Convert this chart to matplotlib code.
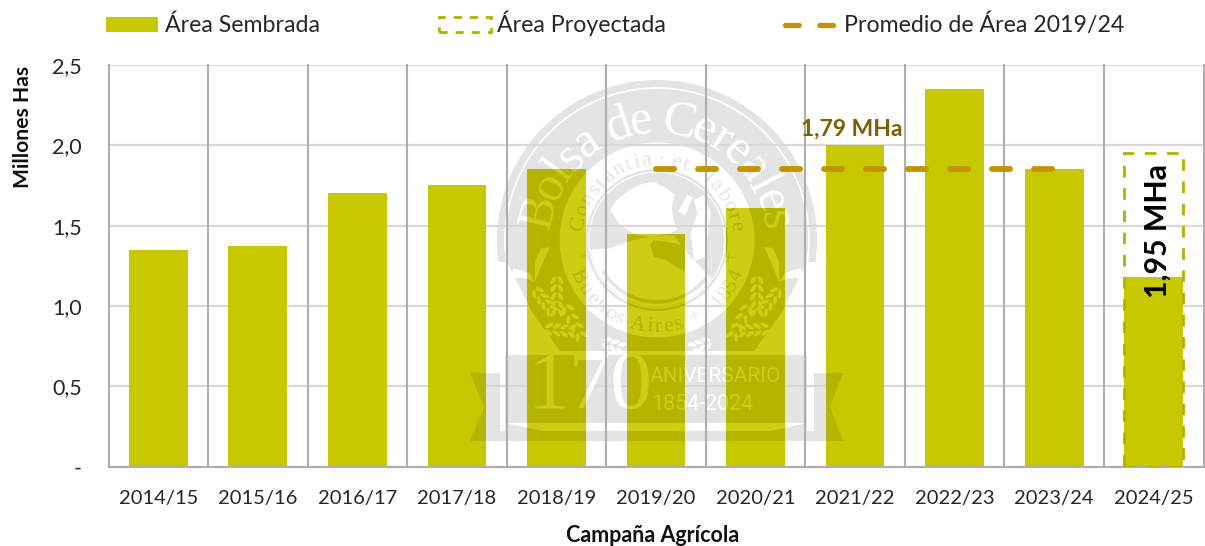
import numpy as np
import matplotlib
matplotlib.use("Agg")
import matplotlib.pyplot as plt
from matplotlib.patches import Patch, Circle, Rectangle, Ellipse, Polygon, Arc
from matplotlib.lines import Line2D
from matplotlib.path import Path
from matplotlib.transforms import Affine2D, Bbox, TransformedBbox
from matplotlib.textpath import TextPath
from matplotlib.font_manager import FontProperties

campaigns = ["2014/15", "2015/16", "2016/17", "2017/18", "2018/19", "2019/20",
             "2020/21", "2021/22", "2022/23", "2023/24", "2024/25"]
sown_area = [1.35, 1.37, 1.70, 1.75, 1.85, 1.45, 1.61, 2.00, 2.35, 1.85, 1.18]
projected_campaign = "2024/25"
projected_area = 1.95
average_campaigns = ["2019/20", "2020/21", "2021/22", "2022/23", "2023/24"]
average_area = [1.855, 1.855, 1.855, 1.855, 1.855]
y_ticks = [0, 0.5, 1.0, 1.5, 2.0, 2.5]
y_tick_labels = ["-", "0,5", "1,0", "1,5", "2,0", "2,5"]

BAR = "#C8C800"
W, H = 1205, 546
plt.rcParams["font.family"] = ["Lato", "DejaVu Sans"]
fig = plt.figure(figsize=(W / 100, H / 100), dpi=100, facecolor="white")
ax = fig.add_axes([108.5 / W, 1 - 466.5 / H, (1203.5 - 108.5) / W, (466.5 - 65) / H])
ax.set_xlim(-0.5, 10.5)
ax.set_ylim(0, 2.5)
x = np.arange(len(campaigns))

bars = ax.bar(x, sown_area, width=0.59, color=BAR, zorder=2)
px_idx = campaigns.index(projected_campaign)
ax.bar(px_idx, projected_area, width=0.59, facecolor="none", edgecolor="#B3B000",
       linewidth=2.0, linestyle=(0, (4.2, 3.8)), zorder=3)
ax.plot([campaigns.index(c) for c in average_campaigns], average_area, color="#C29500",
        lw=4.2, dash_capstyle="round", dashes=(3.1, 4.1), zorder=4)

ax.set_yticks(y_ticks)
ax.set_yticklabels(y_tick_labels, fontsize=15.5, color="#262626")
ax.set_xticks(x)
ax.set_xticklabels(campaigns, fontsize=14.5, color="#262626")
ax.tick_params(axis="x", length=0, pad=17)
ax.tick_params(axis="y", length=0, pad=19)
ax.set_axisbelow(True)
ax.yaxis.grid(True, color="#D9D9D9", lw=1.6, zorder=1)
for b in np.arange(-0.5, 11):
    ax.axvline(b, color="#B0ADAD", lw=1.5, zorder=1, clip_on=False)
for side in ["top", "right", "left"]:
    ax.spines[side].set_visible(False)
ax.spines["bottom"].set_color("#B0ADAD")
ax.spines["bottom"].set_linewidth(1.5)

ax.set_xlabel("Campaña Agrícola", fontsize=15.5, fontweight="bold", color="#111111")
ax.xaxis.set_label_coords(0.497, -0.145)
ax.set_ylabel("Millones Has", fontsize=15.2, fontweight="bold", color="#111111")
ax.yaxis.set_label_coords(-0.069, 0.845)

ax.text(6.965, 2.10, "1,79 MHa", ha="center", va="center", fontsize=16.5, fontweight="bold",
        color="#7F6000", zorder=5)
ax.text(px_idx + 0.04, 1.465, "1,95 MHa", rotation=90, ha="center", va="center", fontsize=21.8,
        fontweight="bold", color="black", zorder=5)

# watermark, in pixel coordinates of the figure
px = Affine2D().scale(1, -1).translate(0, H)
CX, CY = 657, 240
serif = FontProperties(family="Liberation Serif")


def arc_text(s, r, a0, a1, size, color, zo, top=True, fam="Liberation Serif"):
    widths = []
    for c in s:
        if c == " ":
            widths.append(size * 0.28)
        else:
            widths.append(TextPath((0, 0), c, size=size, prop=serif).get_extents().width + size * 0.12)
    total = sum(widths)
    pos = 0
    out = []
    for c, w in zip(s, widths):
        f = (pos + w / 2) / total
        pos += w
        a = a0 + (a1 - a0) * f
        xp = CX + r * np.cos(np.radians(a))
        yp = CY - r * np.sin(np.radians(a))
        rot = a - 90 if top else a + 90
        out.append(ax.text(xp, yp, c, transform=px, ha="center", va="baseline", rotation=rot,
                           rotation_mode="anchor", fontsize=size, family=fam,
                           color=color, zorder=zo))
    return out


def z1(zx, zy):
    return (570 + zx / 3, 150 + zy / 3)


def watermark_shapes(gray, white, zo, clip):
    arts = []

    def add(p):
        p.set_transform(px)
        ax.add_artist(p)
        p.set_zorder(zo)
        arts.append(p)

    def poly(pts, col):
        add(Polygon(pts, closed=True, fc=col, ec="none"))

    def ear(x0, y0, x1, y1, n, col):
        ang = np.degrees(np.arctan2(y1 - y0, x1 - x0))
        nx, ny = -(y1 - y0), x1 - x0
        ln = np.hypot(nx, ny)
        nx, ny = nx / ln, ny / ln
        for i in range(n):
            t = i / max(n - 1, 1)
            xc = x0 + (x1 - x0) * t
            yc = y0 + (y1 - y0) * t
            for j in (-1, 1):
                add(Ellipse((xc + j * 3.6 * nx, yc + j * 3.6 * ny), 9, 4,
                            angle=ang + j * 32, fc=col, ec="none"))

    add(Circle((CX, CY), 160, fc=gray, ec="none"))
    add(Circle((CX, CY), 152, fc="none", ec=white, lw=1.3))
    for s in (-1, 1):
        poly([(CX + s * 150, 262), (CX + s * 125, 312), (CX + s * 97, 351), (CX + s * 170, 351),
              (CX + s * 170, 262)], white)
        poly([(CX + s * 144, 268), (CX + s * 128, 273), (CX + s * 122, 282), (CX + s * 132, 278),
              (CX + s * 146, 278)], white)
        poly([(CX + s * 116, 248), (CX + s * 122, 262), (CX + s * 122, 282), (CX + s * 114, 262),
              (CX + s * 107, 247)], white)
    add(Circle((CX, CY), 97.5, fc=white, ec="none"))
    add(Circle((CX, CY), 71, fc=gray, ec="none"))
    add(Circle((CX, CY), 68, fc="none", ec=white, lw=0.9))

    angs = np.radians(np.linspace(172, 35, 25))
    lower = [(CX + 67 * np.cos(a), CY + 67 * np.sin(a)) for a in angs]
    poly(lower + [z1(380, 340), z1(345, 300), z1(310, 255), z1(235, 262), z1(190, 270), z1(120, 295)], white)
    poly([z1(120, 180), z1(140, 150), z1(165, 130), z1(205, 105), z1(250, 95), z1(290, 115), z1(315, 135),
          z1(305, 170), z1(312, 215), z1(322, 238), z1(300, 250), z1(250, 262), z1(195, 255), z1(150, 225)], white)
    poly([z1(240, 285), z1(250, 270), z1(345, 285), z1(345, 362), z1(325, 355), z1(290, 332), z1(252, 320)], gray)
    poly([z1(325, 185), z1(352, 135), z1(368, 142), z1(345, 195)], white)
    poly([z1(372, 150), z1(402, 135), z1(422, 190), z1(405, 320), z1(372, 335), z1(362, 250), z1(382, 190)], white)
    add(Arc((CX, CY), 124, 124, theta1=38, theta2=150, ec=gray, lw=2.4, fc="none"))

    for s in (-1, 1):
        ear(CX + s * 100, 280, CX + s * 100, 313, 5, white)
        ear(CX + s * 120, 292, CX + s * 106, 310, 4, white)
        ear(CX + s * 90, 309, CX + s * 76, 336, 4, white)
        ear(CX + s * 108, 329, CX + s * 85, 331, 4, white)
        ear(CX + s * 50, 343, CX + s * 36, 348, 3, white)

    poly([(470, 373), (843, 373), (830, 407), (843, 441), (470, 441), (484, 407)], gray)
    add(Rectangle((500, 351), 314, 80, fc=white, ec="none"))
    add(Rectangle((505, 355), 302, 68, fc=gray, ec="none"))
    poly([(505, 423), (543, 431), (543, 441), (505, 431)], gray)
    poly([(807, 423), (771, 431), (771, 441), (807, 431)], gray)
    for a in arts:
        if clip is None:
            a.set_clip_on(False)
        else:
            a.set_clip_on(True)
            a.set_clip_path(clip, ax.transData)


def watermark_texts(gray, white, zo, box):
    texts = []
    texts += arc_text("Bolsa de Cereales", 107, 174, 5, 36, white, zo)
    texts += arc_text("Constantia · et · labore", 75, 174, 6, 15.5, gray, zo)
    texts += arc_text("Buenos Aires", 92, 200, 287, 15.5, gray, zo, top=False)
    texts += arc_text("1854", 92, 312, 340, 15, gray, zo, top=False)
    texts += arc_text("+", 82, 192, 192, 15, gray, zo, top=False)
    texts += arc_text("+", 82, 348, 348, 15, gray, zo, top=False)
    texts += arc_text("+", 92, 297, 297, 15, gray, zo, top=False)
    for s, xp, yp, sz, fam in [("170", 590, 388, 60, "Liberation Serif"),
                               ("ANIVERSARIO", 715, 376, 15, "Roboto"),
                               ("1854-2024", 702, 404, 15.5, "Roboto")]:
        texts.append(ax.text(xp, yp, s, transform=px, ha="center", va="center", fontsize=sz,
                             family=fam, color=white, zorder=zo))
    for t in texts:
        if box is None:
            t.set_clip_on(False)
        else:
            t.set_clip_on(True)
            t.set_clip_box(box)


watermark_shapes("#E4E4E4", "#FFFFFF", 0.5, None)
watermark_texts("#E4E4E4", "#FFFFFF", 0.6, None)
clip_path = Path.make_compound_path(*[b.get_path().transformed(b.get_patch_transform()) for b in bars])
watermark_shapes("#B5B500", "#CDCD14", 2.5, clip_path)
for name in ["2018/19", "2019/20", "2020/21"]:
    b = bars[campaigns.index(name)]
    box = TransformedBbox(Bbox.from_bounds(b.get_x(), 0, b.get_width(), b.get_height()), ax.transData)
    watermark_texts("#B5B500", "#CDCD14", 2.6, box)

# legend
handles = [Patch(facecolor=BAR, edgecolor="none"),
           Patch(facecolor="white", edgecolor="#B3B000", lw=2.0, linestyle=(0, (2.9, 2.9))),
           Line2D([0], [0], color="#C29500", lw=3.8, dash_capstyle="round", dashes=(2.6, 3.9))]
labels = ["Área Sembrada", "Área Proyectada", "Promedio de Área 2019/24"]
leg = fig.legend(handles, labels, ncols=3, loc="upper left", bbox_to_anchor=(99 / W, 1 - 4 / H),
                 frameon=False, fontsize=16.7, handlelength=2.24, handleheight=0.65, handletextpad=0.29,
                 columnspacing=5.13, labelcolor="#262626", borderpad=0.3, borderaxespad=0)
fig.savefig("out.png", dpi=100, facecolor="white")
